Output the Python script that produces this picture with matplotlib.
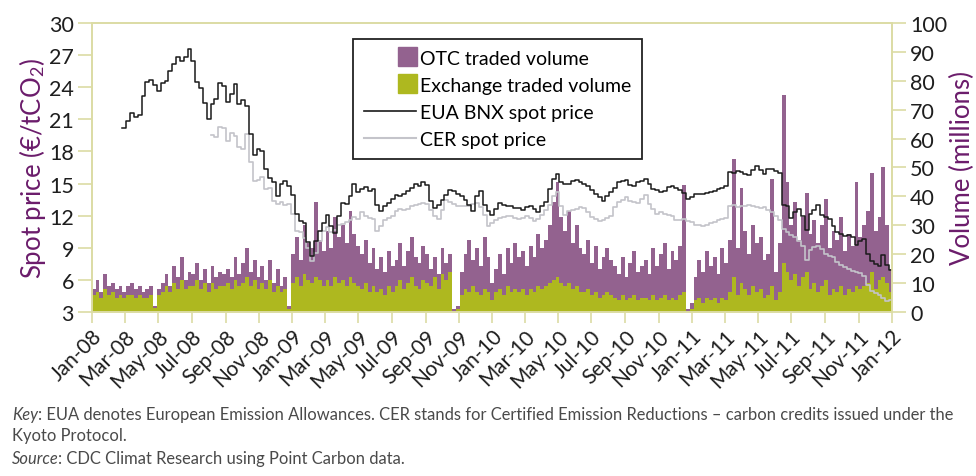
import numpy as np
import pandas as pd
import matplotlib
matplotlib.use("Agg")
import matplotlib.pyplot as plt
import matplotlib.dates as mdates
from matplotlib.patches import Rectangle, Patch
from matplotlib.lines import Line2D
from matplotlib.legend_handler import HandlerPatch

plt.rcParams['font.family'] = ['Lato', 'DejaVu Sans']
plt.rcParams['mathtext.fontset'] = 'custom'
plt.rcParams['mathtext.rm'] = 'Lato'
plt.rcParams['mathtext.it'] = 'Lato:italic'

# weekly samples, Friday 4 Jan 2008 .. Friday 30 Dec 2011
week_start = "2008-01-04"
n_weeks = 209
nan = np.nan

# EUA BNX spot price (EUR/tCO2), starts late Feb 2008
eua_price = [nan] * 8 + [
    20.2, 20.8, 21.6, 21.2, 21.4, 23.2, 24.5, 24.7, 24.2, 23.6,
    24.4, 24.6, 25.5, 26.2, 26.8, 26.4, 26.8, 27.6, 26.4, 24.5,
    23.9, 22.5, 21.0, 22.4, 22.9, 24.4, 24.1, 22.6, 23.4, 24.3,
    22.4, 22.8, 22.2, 19.6, 17.7, 18.2, 18.0, 16.4, 15.5, 15.1,
    13.8, 15.0, 15.2, 14.8, 13.9, 12.2, 11.5, 11.3, 9.5, 8.2,
    9.6, 10.6, 11.3, 12.1, 11.0, 10.4, 12.0, 13.2, 13.1, 13.8,
    15.0, 14.2, 14.5, 14.7, 14.3, 14.5, 13.0, 12.4, 12.9, 13.2,
    13.6, 13.9, 13.8, 14.0, 14.3, 14.6, 15.0, 14.8, 15.1, 14.9,
    13.4, 12.7, 13.0, 13.5, 13.9, 14.4, 14.3, 14.0, 13.8, 13.5,
    13.0, 12.4, 13.8, 14.3, 13.0, 12.4, 12.1, 12.6, 13.2, 13.0,
    12.9, 12.9, 12.7, 12.7, 12.5, 12.8, 12.9, 12.6, 12.3, 12.9,
    13.3, 14.5, 15.4, 15.9, 15.1, 15.0, 15.0, 15.2, 15.3, 15.1,
    15.0, 14.8, 14.4, 14.0, 13.7, 13.4, 13.8, 14.2, 14.6, 15.1,
    15.2, 15.3, 14.9, 14.8, 15.1, 15.2, 15.4, 15.0, 14.5, 14.4,
    14.2, 14.3, 14.7, 14.8, 14.6, 14.4, 14.1, 13.6, 13.7, 14.0,
    14.0, 14.0, 14.1, 14.2, 14.3, 14.5, 14.6, 14.8, 16.1, 16.0,
    16.2, 16.1, 15.9, 15.8, 16.3, 16.6, 16.3, 15.9, 16.4, 16.4,
    16.2, 16.0, 13.0, 12.9, 11.8, 12.3, 12.6, 12.0, 10.7, 12.2,
    12.5, 13.0, 12.1, 11.9, 11.7, 11.0, 10.5, 10.3, 10.1, 10.2,
    10.0, 9.3, 9.6, 9.8, 8.4, 7.8, 7.5, 7.3, 8.3, 7.4, 6.9,
]

# CER spot price (EUR/tCO2), starts Aug 2008
cer_price = [nan] * 31 + [
    19.5, 19.3, 20.3, 20.2, 19.0, 19.7, 19.4, 18.4, 18.2, 19.6,
    17.0, 15.2, 15.3, 15.6, 14.5, 14.6, 13.4, 13.1, 13.3, 13.0,
    13.1, 12.2, 10.6, 10.5, 9.9, 9.0, 7.8, 8.5, 9.6, 10.6,
    10.9, 10.5, 10.7, 11.1, 11.2, 11.4, 11.6, 11.9, 11.7, 12.3,
    12.0, 11.8, 11.7, 10.6, 11.0, 11.6, 11.8, 12.0, 12.4, 12.6,
    12.5, 12.6, 12.9, 13.0, 13.1, 13.2, 13.1, 12.5, 12.0, 11.7,
    12.5, 13.5, 13.3, 13.1, 12.9, 12.9, 12.9, 12.9, 13.1, 13.2,
    12.8, 12.1, 11.0, 11.3, 11.6, 11.8, 11.9, 12.0, 12.0, 11.8,
    11.7, 11.8, 12.0, 11.8, 11.5, 11.7, 12.1, 12.5, 13.0, 13.8,
    14.2, 12.9, 12.1, 12.4, 12.5, 12.6, 12.8, 12.7, 12.3, 11.9,
    11.7, 11.5, 11.6, 11.8, 12.0, 12.8, 13.3, 13.5, 13.7, 13.4,
    13.3, 13.2, 13.6, 13.9, 13.1, 12.6, 12.2, 12.3, 12.2, 12.1,
    12.0, 11.6, 11.6, 11.7, 11.5, 11.4, 11.1, 11.1, 11.0, 11.1,
    11.3, 11.4, 11.6, 11.7, 11.8, 12.9, 13.0, 12.8, 12.9, 12.9,
    13.0, 12.9, 12.8, 12.7, 12.8, 12.5, 12.3, 12.0, 11.6, 10.8,
    10.5, 10.2, 10.0, 9.6, 9.2, 7.9, 8.8, 9.1, 9.2, 8.9,
    8.4, 8.2, 8.1, 7.7, 7.4, 7.2, 7.0, 6.8, 6.7, 6.6,
    6.4, 5.5, 5.0, 4.8, 4.6, 4.3, 4.0, 4.1,
]

# total traded volume (millions)
total_volume = [
    8, 11, 7, 13, 9, 10, 8, 9,
    7, 9, 10, 8, 9, 7, 8, 9,
    2, 8,
    10, 13, 9, 16, 12, 19, 11, 14,
    13, 17, 11, 15, 10, 16, 12, 14, 13,
    15, 12, 19, 13, 17, 22, 14, 18, 12,
    16, 11, 18, 10, 15, 9, 12,
    2,
    20, 26, 18, 30, 24, 22, 38, 25, 21,
    28, 22, 33, 26, 30, 24, 35, 27, 23,
    20, 25, 17, 22, 15, 19, 14, 21, 16,
    18, 24, 16, 21, 26, 19, 17, 23, 20,
    15, 19, 13, 22, 17, 20,
    1, 2,
    14, 20, 25, 18, 22, 16, 26, 19, 10,
    15, 20, 13, 22, 17, 24, 19, 21, 16,
    23, 19, 27, 22, 25, 30,
    38, 45, 33,
    28, 35, 24, 30, 22,
    20, 25, 17, 23, 15, 19, 22, 18,
    16, 13, 19, 12, 17, 21, 14, 16,
    18, 13, 22, 16, 20, 24, 15, 21, 18, 23,
    44,
    1, 3,
    12, 18, 14, 21, 16, 19, 13, 22, 17,
    25, 53, 22, 43, 28, 20, 30, 24, 26, 18,
    20, 46, 14, 24,
    75, 45,
    30, 38, 25, 33, 41, 27, 32,
    24, 30, 39, 22, 28, 25, 33, 21, 27,
    23, 45, 26,
    30, 35, 48, 28, 33, 50, 30, 15,
]

# exchange traded volume (millions)
exchange_volume = [
    6, 7, 5, 8, 6, 7, 5, 6,
    5, 6, 6, 5, 6, 5, 5, 6,
    1.5, 6,
    7, 9, 7, 10, 8, 11, 8, 9,
    9, 11, 8, 10, 7, 10, 8, 9, 9,
    10, 8, 11, 9, 10, 12, 9, 11, 8,
    10, 8, 11, 7, 9, 7, 8,
    1,
    10, 12, 9, 13, 11, 10, 12, 11, 9,
    11, 9, 12, 10, 11, 9, 12, 10, 9,
    8, 10, 7, 9, 7, 8, 6, 9, 7,
    9, 11, 8, 10, 12, 9, 8, 11, 10,
    9, 12, 8, 13, 11, 14,
    0.5, 1,
    6, 8, 7, 9, 7, 6, 8, 7, 4,
    7, 8, 6, 9, 7, 8, 7, 8, 6,
    8, 7, 9, 8, 9, 10,
    11, 12, 10,
    9, 10, 8, 9, 7,
    7, 8, 6, 7, 5, 6, 7, 6,
    5, 4, 6, 4, 5, 6, 4, 5,
    5, 4, 6, 4, 5, 6, 4, 5, 4, 6,
    7,
    0.5, 1,
    4, 5, 3, 5, 4, 5, 3, 5, 4,
    7, 12, 6, 10, 8, 6, 9, 7, 8, 5,
    6, 9, 4, 7,
    17, 14,
    11, 13, 9, 12, 14, 8, 10,
    7, 9, 11, 6, 8, 7, 9, 6, 8,
    7, 9, 8,
    9, 10, 14, 8, 11, 12, 10, 7,
]

price_ticks = list(range(3, 31, 3))
volume_ticks = list(range(0, 101, 10))

assert len(eua_price) == n_weeks and len(cer_price) == n_weeks
assert len(total_volume) == n_weeks and len(exchange_volume) == n_weeks

dates = pd.date_range(week_start, periods=n_weeks, freq="7D")
exch = np.array(exchange_volume, dtype=float)
otc = np.array(total_volume, dtype=float) - exch

OTC_COL = "#93628F"
EXCH_COL = "#AEB81F"
BG = "#ECECD0"
EDGE = "#DCDCA4"
LABEL_COL = "#6B1C6B"

fig = plt.figure(figsize=(9.76, 4.77), dpi=100)
ax = fig.add_axes([0.0943, 0.3438, 0.8197, 0.6060])
ax2 = ax.twinx()

# volume bars sit underneath the price lines
ax.set_zorder(ax2.get_zorder() + 1)
ax.patch.set_visible(False)
ax2.patch.set_facecolor(BG)

ax2.set_ylim(0, 100)
ax.set_ylim(3, 30)
for p in price_ticks[1:]:
    ax2.axhline((p - 3) / 27 * 100, color="white", lw=1.6, zorder=0)

ax2.bar(dates, exch, width=7, color=EXCH_COL, linewidth=0, zorder=2)
ax2.bar(dates, otc, bottom=exch, width=7, color=OTC_COL, linewidth=0, zorder=2)

ax.plot(dates, cer_price, color="#C4C4CA", lw=1.2, drawstyle="steps-mid")
ax.plot(dates, eua_price, color="#1A1A1A", lw=1.1, drawstyle="steps-mid")

ax.set_xlim(pd.Timestamp("2008-01-01"), pd.Timestamp("2012-01-01"))
ax.xaxis.set_major_locator(mdates.MonthLocator(bymonth=[1, 3, 5, 7, 9, 11]))
ax.xaxis.set_major_formatter(mdates.DateFormatter("%b-%y"))
ax.set_yticks(price_ticks)
ax2.set_yticks(volume_ticks)

for a in (ax, ax2):
    for s in a.spines.values():
        s.set_color(EDGE)
        s.set_linewidth(1.2)
    a.tick_params(colors=EDGE, labelcolor="#1E1E1E", labelsize=15.5, length=10, width=1.2, pad=3)

ax.tick_params(axis="x", length=8, pad=2, labelsize=15)
plt.setp(ax.get_xticklabels(), rotation=45, ha="right", rotation_mode="anchor")

ax.set_ylabel(r"Spot price (€/tCO$_2$)", color=LABEL_COL, fontsize=18.5, labelpad=1)
ax2.set_ylabel("Volume (millions)", color=LABEL_COL, fontsize=18.5, labelpad=2)


def square_handle(legend, orig_handle, xdescent, ydescent, width, height, fontsize):
    s = height * 1.4
    return Rectangle((width - s - xdescent + 1, -ydescent + (height - s) / 2), s, s)


handles = [
    Patch(color=OTC_COL, label="OTC traded volume"),
    Patch(color=EXCH_COL, label="Exchange traded volume"),
    Line2D([], [], color="#1A1A1A", lw=1.2, label="EUA BNX spot price"),
    Line2D([], [], color="#C4C4CA", lw=1.5, label="CER spot price"),
]
leg = ax.legend(handles=handles, loc="upper left", bbox_to_anchor=(0.326, 0.945),
                fontsize=14, frameon=True, fancybox=False, handlelength=2.7,
                handletextpad=0.2, labelspacing=0.52, borderpad=0.55, borderaxespad=0,
                handler_map={Patch: HandlerPatch(patch_func=square_handle)})
leg.get_frame().set_edgecolor("#222222")
leg.get_frame().set_linewidth(1.3)
leg.get_frame().set_facecolor("white")
leg.get_frame().set_alpha(1)

# caption with italic lead words
cap_col = "#4A4A4A"
cap_size = 11.9
fig.canvas.draw()
r = fig.canvas.get_renderer()
x0 = 0.012
t = fig.text(x0, 1 - 415 / 477, "Key", style="italic", fontsize=cap_size, color=cap_col, va="center")
bb = t.get_window_extent(r)
fig.text(bb.x1 / fig.bbox.width, 1 - 415 / 477,
         ": EUA denotes European Emission Allowances. CER stands for Certified Emission Reductions \u2013 carbon credits issued under the",
         fontsize=cap_size, color=cap_col, va="center")
fig.text(x0, 1 - 436 / 477, "Kyoto Protocol.", fontsize=cap_size, color=cap_col, va="center")
t = fig.text(x0, 1 - 459 / 477, "Source", style="italic", fontsize=cap_size, color=cap_col, va="center")
bb = t.get_window_extent(r)
fig.text(bb.x1 / fig.bbox.width, 1 - 459 / 477, ": CDC Climat Research using Point Carbon data.",
         fontsize=cap_size, color=cap_col, va="center")

fig.savefig("out.png", dpi=100, facecolor="white")
